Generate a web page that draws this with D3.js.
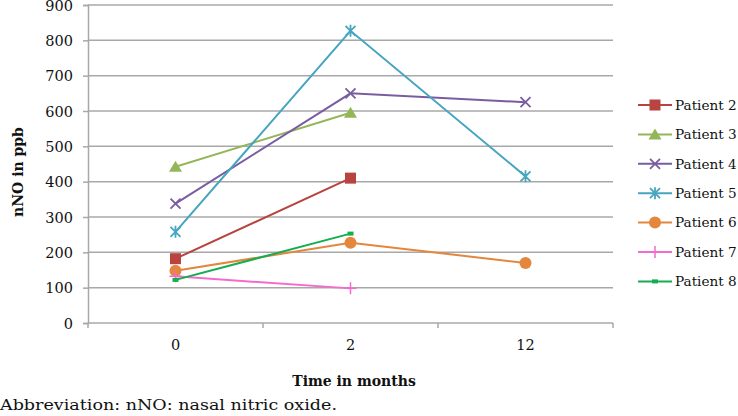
<!DOCTYPE html>
<html><head><meta charset="utf-8">
<script src="https://cdn.jsdelivr.net/npm/d3@7"></script>
<style>body{margin:0;background:#fff}svg{display:block}text{font-family:"DejaVu Serif",serif;fill:#111}</style>
</head><body><svg id="c" width="738" height="416"></svg>
<script>
const categories = ["0", "2", "12"];
const seriesNames = ["Patient 2", "Patient 3", "Patient 4", "Patient 5", "Patient 6", "Patient 7", "Patient 8"];
const patient2 = [182, 410, null];
const patient3 = [442, 595, null];
const patient4 = [338, 650, 625];
const patient5 = [258, 827, 415];
const patient6 = [148, 227, 170];
const patient7 = [132, 98, null];
const patient8 = [122, 253, null];
const yTicks = [0, 100, 200, 300, 400, 500, 600, 700, 800, 900];
const colors = ["#b8433f", "#94b659", "#7a5ca0", "#47a5bf", "#e2873d", "#f46ccb", "#14ad50"];
const markers = ["square", "triangle", "x", "asterisk", "circle", "plus", "dash"];
const seriesValues = [patient2, patient3, patient4, patient5, patient6, patient7, patient8];

const svg = d3.select("#c");
const x = d3.scaleBand().domain(categories).range([88, 613]).padding(0);
const y = d3.scaleLinear().domain([0, 900]).range([323, 5]);
const cx = d => x(d) + x.bandwidth() / 2;
const grid = "#a8a8a8";

// gridlines
svg.append("g").selectAll("line").data(yTicks.filter(t => t > 0)).join("line")
  .attr("x1", 88).attr("x2", 613).attr("y1", d => y(d)).attr("y2", d => y(d))
  .attr("stroke", grid).attr("stroke-width", 1.5);

// y axis
const ya = svg.append("g").attr("transform", "translate(88,0)")
  .call(d3.axisLeft(y).tickValues(yTicks).tickSize(5).tickPadding(10));
ya.select(".domain").attr("stroke", grid).attr("stroke-width", 1.5);
ya.selectAll(".tick line").attr("stroke", grid).attr("stroke-width", 1.5);
ya.selectAll("text").attr("font-family", "DejaVu Serif").attr("font-size", 14.5).attr("fill", "#111").attr("dy", "0.36em");

// x axis
svg.append("line").attr("x1", 88).attr("x2", 613).attr("y1", y(0)).attr("y2", y(0))
  .attr("stroke", grid).attr("stroke-width", 1.5);
const edges = categories.map(c => x(c)).concat([x(categories[categories.length - 1]) + x.bandwidth()]);
svg.append("g").selectAll("line").data(edges).join("line")
  .attr("x1", d => d).attr("x2", d => d).attr("y1", y(0)).attr("y2", y(0) + 5)
  .attr("stroke", grid).attr("stroke-width", 1.5);
svg.append("g").selectAll("text").data(categories).join("text")
  .attr("x", d => cx(d)).attr("y", 350).attr("text-anchor", "middle").attr("font-size", 14.5).text(d => d);

// titles
svg.append("text").attr("x", 354).attr("y", 386).attr("text-anchor", "middle")
  .attr("font-weight", "bold").attr("font-size", 14).text("Time in months");
svg.append("text").attr("transform", "translate(23,172) rotate(-90)").attr("text-anchor", "middle")
  .attr("font-weight", "bold").attr("font-size", 14).text("nNO in ppb");
svg.append("text").attr("x", 0).attr("y", 410).attr("font-size", 15.5)
  .attr("textLength", 337).attr("lengthAdjust", "spacingAndGlyphs")
  .text("Abbreviation: nNO: nasal nitric oxide.");

function drawMarker(g, type, color) {
  if (type === "square") g.append("rect").attr("x", -5.5).attr("y", -5.5).attr("width", 11).attr("height", 11).attr("fill", color);
  else if (type === "triangle") g.append("path").attr("d", "M0,-6L6.5,5L-6.5,5Z").attr("fill", color);
  else if (type === "x") g.append("path").attr("d", "M-5,-5L5,5M-5,5L5,-5").attr("stroke", color).attr("stroke-width", 1.8);
  else if (type === "asterisk") g.append("path").attr("d", "M-5,-5L5,5M-5,5L5,-5M0,-6L0,6").attr("stroke", color).attr("stroke-width", 1.8);
  else if (type === "circle") g.append("circle").attr("r", 6).attr("fill", color);
  else if (type === "plus") g.append("path").attr("d", "M-6,0L6,0M0,-6L0,6").attr("stroke", color).attr("stroke-width", 1.5);
  else if (type === "dash") g.append("rect").attr("x", -3).attr("y", -2).attr("width", 6).attr("height", 4).attr("fill", color);
}

const line = d3.line().defined(d => d.v != null).x(d => cx(d.c)).y(d => y(d.v));
seriesValues.forEach((vals, i) => {
  const pts = categories.map((c, j) => ({ c, v: vals[j] }));
  svg.append("path").datum(pts).attr("d", line).attr("fill", "none")
    .attr("stroke", colors[i]).attr("stroke-width", 2);
  pts.filter(p => p.v != null).forEach(p => {
    const g = svg.append("g").attr("transform", `translate(${cx(p.c)},${y(p.v)})`);
    drawMarker(g, markers[i], colors[i]);
  });
});

// legend
const leg = svg.append("g");
seriesNames.forEach((n, i) => {
  const ly = 105 + i * 29.4;
  leg.append("line").attr("x1", 638).attr("x2", 672).attr("y1", ly).attr("y2", ly)
    .attr("stroke", colors[i]).attr("stroke-width", 2);
  const g = leg.append("g").attr("transform", `translate(655,${ly})`);
  drawMarker(g, markers[i], colors[i]);
  leg.append("text").attr("x", 675).attr("y", ly).attr("dy", "0.36em").attr("font-size", 13.6).text(n);
});
</script></body></html>
